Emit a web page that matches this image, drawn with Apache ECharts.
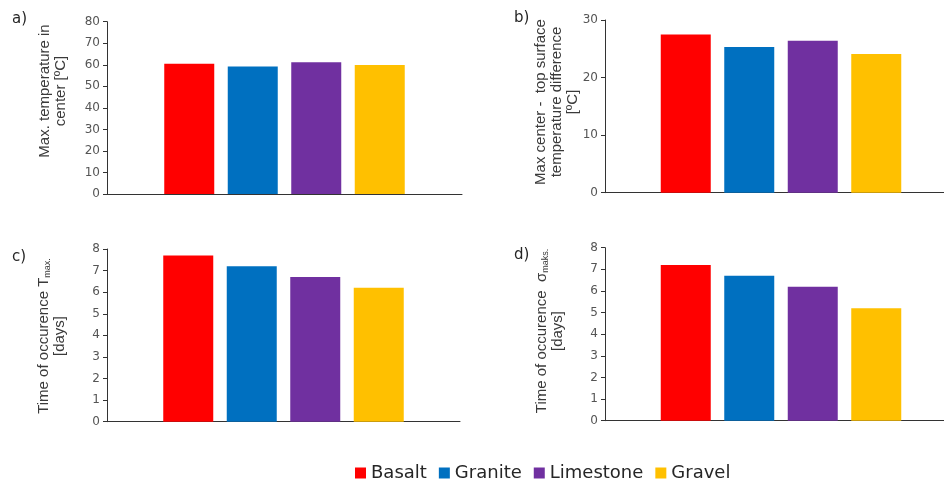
<!DOCTYPE html>
<html>
<head>
<meta charset="utf-8">
<script src="https://cdn.jsdelivr.net/npm/echarts@6/dist/echarts.min.js"></script>
<style>
html,body{margin:0;padding:0;background:#fff;}
#chart{width:944px;height:479px;}
</style>
</head>
<body>
<div id="chart"></div>
<script>
// ---- data ----
const materials = ['Basalt', 'Granite', 'Limestone', 'Gravel'];
const colors = ['#FF0000', '#0070C0', '#7030A0', '#FFC000'];
const maxTempCenter = [60.5, 59.2, 61.2, 59.9];       // a) [ºC]
const maxTempDifference = [27.5, 25.3, 26.4, 24.1];   // b) [ºC]
const timeTmax = [7.7, 7.2, 6.7, 6.2];                // c) [days]
const timeSigmaMax = [7.2, 6.7, 6.2, 5.2];            // d) [days]
const panelLetters = ['a)', 'b)', 'c)', 'd)'];
const axisMax = [80, 30, 8, 8];
const axisInterval = [10, 10, 1, 1];

const panelData = [maxTempCenter, maxTempDifference, timeTmax, timeSigmaMax];

const grids = [
  {left: 107, top: 21.7, width: 355, height: 172.3, outerBoundsMode: 'none'},
  {left: 605, top: 20, width: 352, height: 172.7, outerBoundsMode: 'none'},
  {left: 107, top: 249, width: 353, height: 172.7, outerBoundsMode: 'none'},
  {left: 605, top: 247.7, width: 352, height: 173, outerBoundsMode: 'none'}
];

const axisColor = '#333333';
const tickColor = '#555555';
const nameColor = '#3a3a3a';

const xAxes = grids.map((g, i) => ({
  type: 'category', gridIndex: i, data: [''],
  axisTick: {show: false}, axisLabel: {show: false},
  axisLine: {show: true, lineStyle: {color: axisColor, width: 1}}
}));
const yAxes = grids.map((g, i) => ({
  type: 'value', gridIndex: i, min: 0, max: axisMax[i], interval: axisInterval[i],
  splitLine: {show: false},
  axisLine: {show: true, lineStyle: {color: axisColor, width: 1}},
  axisTick: {show: true, length: 4, lineStyle: {color: axisColor}},
  axisLabel: {color: tickColor, fontFamily: 'DejaVu Sans', fontSize: 12, margin: 7}
}));

const series = [];
panelData.forEach((vals, p) => {
  materials.forEach((m, k) => {
    series.push({
      type: 'bar', name: m, xAxisIndex: p, yAxisIndex: p,
      data: [vals[k]], barWidth: 50, barGap: '27%',
      itemStyle: {color: colors[k]},
      emphasis: {disabled: true}
    });
  });
});

const nameStyle = {
  fontFamily: 'Liberation Sans', fontSize: 15, lineHeight: 16, fill: nameColor
};
function vName(x, y, text, rich) {
  return {
    type: 'text', x: x, y: y, rotation: Math.PI / 2, silent: true,
    style: Object.assign({
      text: text, align: 'center', verticalAlign: 'middle',
      rich: rich || {}
    }, nameStyle)
  };
}
const richSub = {
  a: {fontFamily: 'Liberation Sans', fontSize: 15, lineHeight: 16, fill: nameColor},
  s: {fontFamily: 'Liberation Sans', fontSize: 9, lineHeight: 16, fill: nameColor, verticalAlign: 'bottom'}
};

const letterPos = [[12, 19], [514, 18], [12, 257], [514, 255]];
const graphics = letterPos.map((p, i) => ({
  type: 'text', x: p[0], y: p[1], silent: true,
  style: {text: panelLetters[i], fontFamily: 'DejaVu Sans', fontSize: 15, fill: '#262626',
          align: 'left', verticalAlign: 'middle'}
}));
graphics.push(vName(53, 91, 'Max. temperature in\ncenter [ºC]'));
graphics.push(vName(557, 102, 'Max center -  top surface\ntemperature difference\n[ºC]'));
graphics.push(vName(52, 336, '{a|Time of occurence T}{s|max.}\n{a|[days]}', richSub));
graphics.push(vName(550, 331, '{a|Time of occurence  σ}{s|maks.}\n{a|[days]}', richSub));

const chart = echarts.init(document.getElementById('chart'), null, {renderer: 'canvas'});
chart.setOption({
  animation: false,
  backgroundColor: '#ffffff',
  grid: grids,
  xAxis: xAxes,
  yAxis: yAxes,
  series: series,
  legend: {
    data: materials, left: 350, top: 459,
    icon: 'rect', itemWidth: 11, itemHeight: 11, itemGap: 12,
    selectedMode: false,
    textStyle: {fontFamily: 'DejaVu Sans', fontSize: 18, color: '#262626'}
  },
  graphic: graphics
});
</script>
</body>
</html>
